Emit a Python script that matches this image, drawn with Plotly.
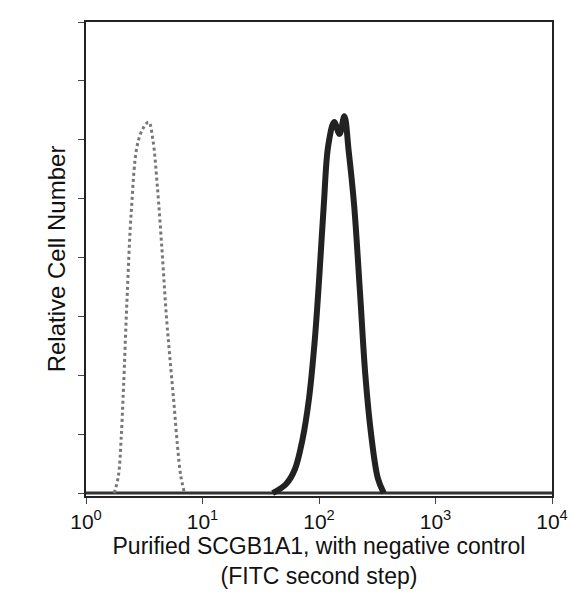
import plotly.graph_objects as go

# negative control (dotted) - fluorescence vs relative count
ctrl_x = [1.75, 1.9, 2.0, 2.1, 2.25, 2.45, 2.75, 3.1, 3.45, 3.75, 4.1, 4.5, 4.9, 5.3, 5.7, 6.1, 6.5, 7.0]
ctrl_y = [0.0, 0.3, 0.9, 1.8, 3.3, 4.8, 5.9, 6.2, 6.3, 6.0, 5.2, 4.1, 3.0, 2.2, 1.5, 0.8, 0.3, 0.0]

# SCGB1A1 stained (solid)
samp_x = [40, 52, 62, 72, 82, 92, 100, 110, 120, 135, 150, 165, 180, 200, 225, 250, 280, 320, 360]
samp_y = [0.0, 0.15, 0.4, 0.9, 1.6, 2.6, 3.6, 4.9, 5.9, 6.3, 6.1, 6.4, 5.8, 4.9, 3.4, 2.0, 1.0, 0.25, 0.0]

fig = go.Figure()
fig.add_trace(go.Scatter(x=[1, 10000], y=[0, 0], mode="lines",
                         line=dict(color="#333", width=3), showlegend=False))
fig.add_trace(go.Scatter(x=ctrl_x, y=ctrl_y, mode="lines", line_shape="spline",
                         line=dict(color="#777", width=3, dash="dot"), showlegend=False))
fig.add_trace(go.Scatter(x=samp_x, y=samp_y, mode="lines", line_shape="spline",
                         line=dict(color="#222", width=6), showlegend=False))

fig.update_layout(
    width=578, height=601,
    margin=dict(l=78, r=34, t=14, b=113),
    plot_bgcolor="white", paper_bgcolor="white",
    font=dict(family="Liberation Sans, Arial", size=19, color="#111"),
    xaxis=dict(type="log", range=[0, 4], showgrid=False, showline=True, linecolor="#222",
               linewidth=2, mirror=True, ticks="outside", ticklen=6, tickfont=dict(size=21),
               tickvals=[1, 10, 100, 1000, 10000],
               ticktext=["10<sup>0</sup>", "10<sup>1</sup>", "10<sup>2</sup>", "10<sup>3</sup>", "10<sup>4</sup>"],
               title=dict(text="Purified SCGB1A1, with negative control<br>(FITC second step)", standoff=4)),
    yaxis=dict(range=[-0.05, 8], showgrid=False, showline=True, linecolor="#222", linewidth=2,
               mirror=True, ticks="outside", ticklen=6, dtick=1, showticklabels=False,
               zeroline=False, title=dict(text="Relative Cell Number", font=dict(size=24), standoff=6)),
)

fig.write_html("out.html")
